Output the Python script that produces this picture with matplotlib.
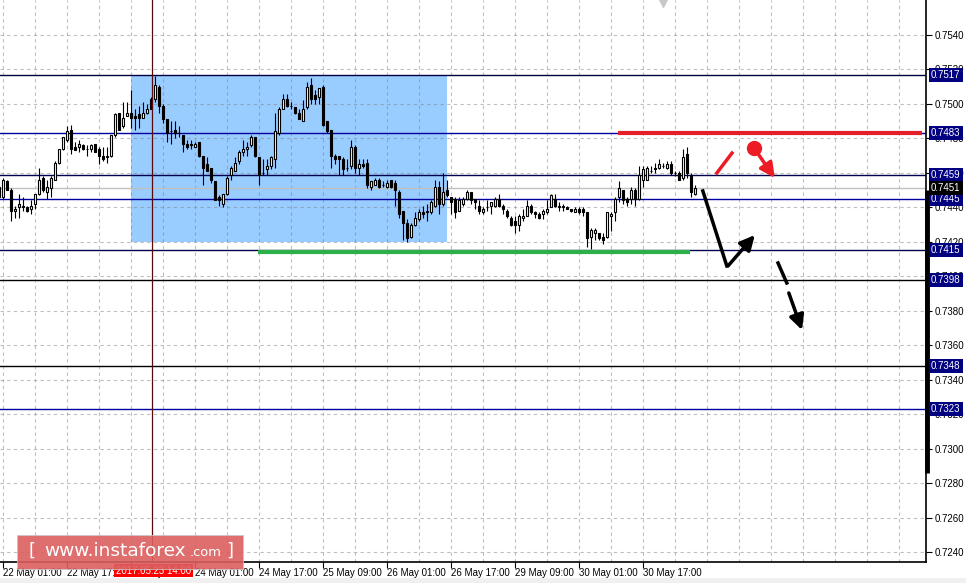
import matplotlib.pyplot as plt
import numpy as np
from matplotlib.patches import Rectangle, FancyBboxPatch
from matplotlib.transforms import blended_transform_factory

# H1 candles, values in pips above 0.7400
opens = [46, 46, 55, 50, 38, 40, 41, 40, 39, 42, 48, 57, 49, 51, 56, 66, 74, 79, 85, 75,
         75, 76, 74, 74, 77, 74, 70, 69, 70, 82, 95, 87, 93, 95, 93, 94, 92, 95, 103, 103,
         110, 99, 91, 84, 85, 83, 82, 77, 76, 75, 78, 70, 65, 63, 55, 46, 42, 48, 59, 61,
         67, 72, 74, 76, 81, 69, 60, 62, 64, 68, 83, 97, 103, 99, 98, 95, 90, 98, 111, 105,
         104, 110, 90, 85, 70, 70, 68, 63, 64, 75, 63, 65, 66, 52, 53, 56, 53, 52, 56, 54,
         49, 38, 31, 23, 30, 33, 37, 37, 37, 41, 52, 42, 50, 46, 45, 38, 42, 45, 49, 45,
         41, 37, 40, 41, 41, 45, 41, 38, 34, 32, 30, 34, 35, 41, 37, 36, 36, 37, 40, 45,
         40, 41, 40, 39, 37, 39, 39, 37, 23, 25, 25, 23, 23, 35, 37, 46, 50, 45, 45, 50,
         45, 56, 56, 61, 63, 63, 64, 63, 65, 60, 60, 57, 71, 59, 48]
highs = [53, 57, 56, 51, 41, 48, 46, 41, 44, 48, 63, 58, 56, 58, 67, 74, 81, 87, 88, 78,
         79, 77, 76, 77, 77, 75, 75, 75, 82, 95, 95, 101, 101, 108, 97, 99, 101, 100, 104, 116,
         111, 100, 91, 90, 90, 87, 82, 79, 79, 78, 78, 70, 69, 63, 55, 47, 48, 58, 64, 69,
         73, 79, 78, 82, 81, 69, 68, 68, 70, 95, 98, 106, 106, 101, 98, 97, 102, 113, 115, 108,
         109, 111, 90, 85, 71, 70, 69, 68, 79, 76, 68, 68, 68, 55, 57, 57, 55, 56, 56, 56,
         50, 38, 33, 31, 37, 39, 41, 42, 44, 56, 55, 60, 56, 46, 46, 46, 46, 50, 49, 45,
         44, 40, 44, 43, 46, 48, 42, 39, 35, 35, 36, 39, 44, 42, 38, 37, 39, 44, 48, 48,
         43, 42, 41, 39, 40, 40, 40, 37, 28, 28, 25, 25, 37, 37, 46, 55, 50, 46, 52, 51,
         64, 64, 64, 64, 66, 68, 66, 67, 67, 61, 61, 74, 75, 60, 53]
lows = [45, 45, 50, 32, 34, 34, 38, 37, 36, 39, 47, 49, 45, 46, 56, 65, 73, 78, 71, 73,
        72, 73, 70, 72, 72, 65, 67, 66, 69, 81, 85, 86, 93, 86, 85, 86, 92, 94, 97, 101,
        95, 89, 78, 77, 80, 81, 72, 74, 74, 75, 69, 53, 61, 54, 44, 41, 40, 47, 56, 61,
        65, 70, 70, 75, 69, 53, 59, 59, 62, 63, 82, 97, 98, 97, 94, 91, 90, 97, 100, 100,
        100, 87, 83, 63, 65, 59, 59, 61, 62, 60, 59, 63, 51, 50, 53, 51, 52, 51, 51, 41,
        34, 21, 20, 22, 29, 32, 34, 32, 36, 40, 36, 41, 46, 36, 34, 38, 41, 44, 42, 39,
        36, 36, 38, 36, 40, 40, 36, 34, 29, 25, 26, 32, 35, 36, 34, 33, 33, 36, 40, 40,
        38, 38, 39, 37, 37, 36, 35, 17, 16, 21, 21, 19, 22, 26, 32, 43, 42, 41, 42, 41,
        44, 52, 56, 60, 60, 62, 63, 62, 59, 58, 56, 56, 57, 46, 47]
closes = [52, 56, 50, 38, 39, 42, 40, 38, 41, 48, 56, 50, 52, 57, 66, 74, 81, 84, 74, 73,
          77, 74, 74, 76, 72, 70, 68, 70, 82, 94, 85, 92, 95, 92, 92, 92, 95, 97, 97, 111,
          99, 91, 83, 84, 83, 83, 77, 75, 77, 77, 70, 63, 61, 56, 44, 44, 48, 57, 63, 66,
          72, 74, 75, 81, 70, 59, 60, 64, 69, 84, 97, 103, 99, 99, 95, 91, 97, 110, 103, 103,
          109, 88, 84, 70, 68, 68, 62, 63, 75, 63, 65, 64, 53, 55, 56, 52, 53, 54, 52, 50,
          36, 31, 22, 30, 34, 37, 36, 38, 43, 52, 42, 49, 47, 43, 37, 44, 45, 49, 44, 43,
          38, 39, 40, 43, 45, 41, 39, 35, 30, 30, 35, 35, 41, 37, 36, 34, 38, 39, 47, 41,
          41, 40, 39, 38, 39, 37, 37, 22, 27, 27, 22, 21, 37, 36, 45, 51, 44, 43, 50, 45,
          59, 62, 63, 61, 62, 65, 64, 65, 60, 60, 56, 69, 60, 49, 51]

tick_pos = [1, 17, 33, 49, 65, 81, 97, 113, 129, 145, 161]
tick_labels = ['22 May 01:00', '22 May 17:00', '23 May 09:00', '24 May 01:00', '24 May 17:00',
               '25 May 09:00', '26 May 01:00', '26 May 17:00', '29 May 09:00', '30 May 01:00',
               '30 May 17:00']

levels = [0.7517, 0.7483, 0.7459, 0.7445, 0.7415, 0.7398, 0.7348, 0.7323]
level_colors = ['#000040', '#0000a0', '#000050', '#0000a0', '#000050', '#000000', '#000000', '#0000a0']
bid = 0.7451

# annotation positions (candle index, price)
zone = (32.9, 111.9, 0.7420, 0.7517)
green_seg = ([64.7, 172.7], 0.74143)
red_seg = ([154.7, 230.7], 0.74833)
black_path = ([175.9, 181.9], [0.74495, 0.74060])
black_up = ((182.2, 0.74060), (188.9, 0.74239))
dash1 = ([194.7, 196.9], [0.74077, 0.73961])
dash2 = ((197.4, 0.73903), (200.7, 0.73688))
red_slash = ([179.4, 183.2], [0.74599, 0.74715])
red_dot = (188.7, 0.74744)
red_tip = (193.9, 0.74570)

o = 0.74 + np.array(opens) / 10000
h = 0.74 + np.array(highs) / 10000
l = 0.74 + np.array(lows) / 10000
c = 0.74 + np.array(closes) / 10000
x = np.arange(len(o))

plt.rcParams['font.family'] = ['Liberation Sans', 'DejaVu Sans']

fig = plt.figure(figsize=(9.66, 5.83), dpi=100)
fig.patch.set_facecolor('white')
ax = fig.add_axes([0, 21 / 583, 926 / 966, 562 / 583])
ax.set_xlim(0.175, 231.7)
ax.set_ylim(0.72342, 0.75603)

# grid
for yv in np.arange(0.7240, 0.75401, 0.002):
    ax.axhline(yv, color='#808080', alpha=0.5, lw=0.8, ls=(0, (3, 3)), zorder=1.5)
for xv in range(1, 232, 8):
    ax.axvline(xv, color='#808080', alpha=0.5, lw=0.8, ls=(0, (3, 3)), zorder=1.5)

ax.add_patch(Rectangle((zone[0], zone[2]), zone[1] - zone[0], zone[3] - zone[2],
                       facecolor='#99ccff', edgecolor='none', zorder=1))

for lv, lc in zip(levels, level_colors):
    ax.axhline(lv, color=lc, lw=1.0, zorder=2)
ax.axhline(bid, color='#c0c0c0', lw=1.0, zorder=2)

# candles
up = c >= o
ax.vlines(x, l, h, color='k', lw=0.8, zorder=3)
ax.bar(x[up], (c - o)[up], bottom=o[up], width=0.55, color='white', edgecolor='k', lw=0.8, zorder=4)
ax.bar(x[~up], (o - c)[~up], bottom=c[~up], width=0.55, color='k', edgecolor='k', lw=0.8, zorder=4)

ax.axvline(38.1, color='#5a0a0a', lw=0.9, zorder=5)

ax.plot(green_seg[0], [green_seg[1]] * 2, color='#2bb04a', lw=3, solid_capstyle='butt', zorder=5)
ax.plot(red_seg[0], [red_seg[1]] * 2, color='#e3202a', lw=3, solid_capstyle='butt', zorder=5)

ax.plot(black_path[0], black_path[1], color='k', lw=2.5, zorder=6)
ax.annotate('', xy=black_up[1], xytext=black_up[0],
            arrowprops=dict(arrowstyle='-|>', color='k', lw=2.5, mutation_scale=22, shrinkA=0, shrinkB=0), zorder=6)
ax.plot(dash1[0], dash1[1], color='k', lw=2.5, zorder=6)
ax.annotate('', xy=dash2[1], xytext=dash2[0],
            arrowprops=dict(arrowstyle='-|>', color='k', lw=2.5, mutation_scale=22, shrinkA=0, shrinkB=0), zorder=6)
ax.plot(red_slash[0], red_slash[1], color='#ed1c24', lw=2.5, zorder=6)
ax.plot(*red_dot, marker='o', ms=10, color='#ed1c24', zorder=6)
ax.annotate('', xy=red_tip, xytext=red_dot,
            arrowprops=dict(arrowstyle='-|>', color='#ed1c24', lw=2.5, mutation_scale=22, shrinkA=0, shrinkB=0), zorder=6)

# top marker
ax.plot(166, 0.75590, marker='v', ms=7, color='#c8c8c8', clip_on=False, zorder=6)

# axes styling
for s in ['top', 'left']:
    ax.spines[s].set_visible(False)
ax.spines['right'].set_linewidth(1.2)
ax.spines['bottom'].set_linewidth(1.2)
ax.yaxis.tick_right()
ax.set_yticks(np.arange(0.7240, 0.75401, 0.002))
ax.set_yticklabels(['%.4f' % v for v in np.arange(0.7240, 0.75401, 0.002)])
ax.tick_params(axis='y', length=4, width=0.8, labelsize=7, pad=2)
ax.set_xticks(tick_pos)
ax.set_xticklabels(tick_labels, ha='left')
ax.tick_params(axis='x', length=4, width=0.8, labelsize=7, pad=0)

bt = blended_transform_factory(ax.transAxes, ax.transData)
ax.plot([1.0015, 1.0015], [0.7450, 0.7286], transform=bt, color='k', lw=3.5,
        solid_capstyle='butt', clip_on=False, zorder=6)
for lv in levels:
    ax.text(1.0055, lv, '%.4f' % lv, transform=bt, fontsize=7, color='white', va='center', ha='left',
            bbox=dict(boxstyle='square,pad=0.2', fc='#000080', ec='none'), clip_on=False, zorder=10)
ax.text(1.0055, bid, '%.4f' % bid, transform=bt, fontsize=7, color='white', va='center', ha='left',
        bbox=dict(boxstyle='square,pad=0.2', fc='black', ec='none'), clip_on=False, zorder=10)

# red time label
fig.text(116 / 966, (583 - 570.5) / 583, '2017.05.23 14:00', fontsize=7, color='white', va='center', ha='left',
         bbox=dict(boxstyle='square,pad=0.2', fc='#ff0000', ec='none'), zorder=10)

# bottom strip
fig.add_artist(Rectangle((0, 0), 1, 5 / 583, transform=fig.transFigure, fc='#f0f0f0', ec='none'))

# watermark
fig.add_artist(FancyBboxPatch((17 / 966, (583 - 569) / 583), 226 / 966, 34 / 583,
                              boxstyle='square,pad=0', transform=fig.transFigure,
                              fc='#dc5f5f', ec='#c8c8c8', lw=0.6, alpha=0.9, zorder=20))
wy = (583 - 551) / 583
fig.text(29 / 966, wy, '[', fontsize=13, color='white', va='center', ha='left', family='DejaVu Sans', zorder=21)
fig.text(44 / 966, wy, 'www.instaforex', fontsize=13.3, color='white', va='center', ha='left',
         family='DejaVu Sans', zorder=21)
fig.text(190 / 966, wy - 0.002, '.com', fontsize=9.4, color='white', va='center', ha='left',
         family='DejaVu Sans', zorder=21)
fig.text(226 / 966, wy, ']', fontsize=13, color='white', va='center', ha='left', family='DejaVu Sans', zorder=21)

plt.savefig('out.png', dpi=100)
